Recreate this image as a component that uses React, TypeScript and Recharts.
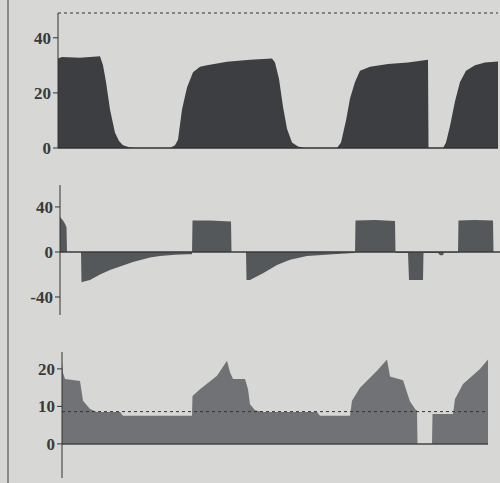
import { Area, AreaChart, ReferenceLine, XAxis, YAxis } from "recharts";

// time runs in screen columns from each panel's axis
const pressureT = [0, 4, 22, 42, 45, 48, 52, 57, 61, 65, 72, 80, 112, 117, 120, 124, 129, 135, 142, 149, 169, 192, 214, 217, 221, 225, 229, 234, 240, 247, 279, 283, 288, 292, 297, 302, 312, 330, 350, 370, 370.5, 385, 388, 392, 397, 402, 408, 417, 427, 442];
const pressureV = [32.5, 33, 32.8, 33.3, 30, 24, 14, 5.5, 2.5, 1, 0.2, 0, 0, 1, 3, 14, 22, 27.5, 29.5, 30, 31.3, 32, 32.5, 31, 25, 15, 7, 2, 0.5, 0, 0, 2, 10, 18, 24, 28, 29.5, 30.5, 31, 32, 0, 0, 2, 8, 17, 24, 28, 30, 31, 31.5];

const flowT = [0, 3, 5, 6.5, 7, 21, 21.5, 25, 30, 40, 50, 60, 73, 90, 100, 115, 128, 132, 132.5, 150, 171, 171.5, 186, 186.5, 190, 203, 217, 230, 247, 273, 293, 295, 295.5, 315, 335, 335.5, 348, 349, 363, 363.5, 378, 380, 383, 384, 398, 398.5, 415, 433, 433.5, 440];
const flowV = [31, 28, 25, 22, 0, 0, -27, -26, -25, -20, -16, -13, -9, -5, -3.5, -2.5, -2, -2, 28, 28, 27, 0, 0, -25, -25, -19, -11.5, -7, -3.5, -2, -1, -1, 28, 28.5, 27.5, -1, -1, -25, -25, -1, -1, -3, -3, -0.5, -0.5, 28, 28.5, 28, 0, 0];

const pawT = [0, 1, 3, 18, 21, 28, 35, 58, 61, 130, 130.5, 138, 155, 165, 168, 171, 183, 186, 188, 193, 201, 255, 258, 288, 290, 298, 315, 325, 328, 341, 348, 354, 355, 355.5, 370, 370.5, 391, 393, 401, 418, 426];
const pawV = [21.8, 19, 17.3, 16.8, 11.5, 9.3, 8.5, 8.5, 7.5, 7.5, 12.8, 14.6, 18.2, 22.2, 19.1, 17.3, 17.3, 14.6, 10.6, 9, 8.5, 8.5, 7.5, 7.5, 11.5, 15, 19.5, 22.5, 18, 17, 11.3, 9, 9, 0, 0, 8, 8, 12, 16, 20, 22.5];

const pressureTicks = [0, 20, 40];
const flowTicks = [-40, 0, 40];
const pawTicks = [0, 10, 20];
const pawPeep = 8.6;

const pressureData = pressureT.map((t, i) => ({ t, v: pressureV[i] }));
const flowData = flowT.map((t, i) => ({ t, v: flowV[i] }));
const pawData = pawT.map((t, i) => ({ t, v: pawV[i] }));

const tickStyle = {
  fill: "#3a3a3a",
  fontSize: 17,
  fontWeight: 700,
  fontFamily: "Liberation Serif, serif",
};

export default function App() {
  return (
    <div
      style={{
        position: "absolute",
        left: 0,
        top: 0,
        width: 500,
        height: 483,
        background: "#d7d7d5",
        overflow: "hidden",
      }}
    >
      <div
        style={{
          position: "absolute",
          left: 7,
          top: 0,
          width: 2,
          height: 483,
          background: "#8a8a88",
        }}
      />

      <div style={{ position: "absolute", left: 0, top: 0 }}>
        <AreaChart
          width={500}
          height={160}
          data={pressureData}
          margin={{ top: 13, right: 2, bottom: 12, left: 0 }}
        >
          <XAxis dataKey="t" type="number" domain={[0, 440]} hide allowDataOverflow />
          <YAxis
            width={58}
            domain={[0, 49]}
            ticks={pressureTicks}
            allowDataOverflow
            tick={tickStyle}
            tickSize={5}
            tickMargin={2}
            axisLine={{ stroke: "#333" }}
            tickLine={{ stroke: "#333" }}
          />
          <ReferenceLine y={49} stroke="#333" strokeDasharray="3 3" />
          <Area
            type="linear"
            dataKey="v"
            stroke="none"
            fill="#3c3e42"
            fillOpacity={1}
            isAnimationActive={false}
            dot={false}
            activeDot={false}
          />
          <ReferenceLine y={0} stroke="#333" strokeWidth={1.5} />
        </AreaChart>
      </div>

      <div style={{ position: "absolute", left: 0, top: 170 }}>
        <AreaChart
          width={500}
          height={160}
          data={flowData}
          margin={{ top: 15, right: 0, bottom: 15, left: 0 }}
        >
          <XAxis dataKey="t" type="number" domain={[0, 440]} hide allowDataOverflow />
          <YAxis
            width={60}
            domain={[-56, 59.5]}
            ticks={flowTicks}
            allowDataOverflow
            tick={tickStyle}
            tickSize={5}
            tickMargin={2}
            axisLine={{ stroke: "#333" }}
            tickLine={{ stroke: "#333" }}
          />
          <Area
            type="linear"
            dataKey="v"
            stroke="none"
            fill="#55585b"
            fillOpacity={1}
            isAnimationActive={false}
            dot={false}
            activeDot={false}
          />
          <ReferenceLine y={0} stroke="#3a3a3a" strokeWidth={1.5} />
        </AreaChart>
      </div>

      <div style={{ position: "absolute", left: 0, top: 340 }}>
        <AreaChart
          width={500}
          height={143}
          data={pawData}
          margin={{ top: 12, right: 0, bottom: 5, left: 0 }}
        >
          <XAxis dataKey="t" type="number" domain={[0, 438]} hide allowDataOverflow />
          <YAxis
            width={62}
            domain={[-9.1, 24.5]}
            ticks={pawTicks}
            allowDataOverflow
            tick={tickStyle}
            tickSize={5}
            tickMargin={2}
            axisLine={{ stroke: "#333" }}
            tickLine={{ stroke: "#333" }}
          />
          <Area
            type="linear"
            dataKey="v"
            stroke="none"
            fill="#707275"
            fillOpacity={1}
            isAnimationActive={false}
            dot={false}
            activeDot={false}
          />
          <ReferenceLine
            segment={[
              { x: 0, y: pawPeep },
              { x: 426, y: pawPeep },
            ]}
            stroke="#333"
            strokeDasharray="3 3"
          />
          <ReferenceLine
            segment={[
              { x: 0, y: 0 },
              { x: 426, y: 0 },
            ]}
            stroke="#444"
            strokeWidth={1.5}
          />
        </AreaChart>
      </div>
    </div>
  );
}
